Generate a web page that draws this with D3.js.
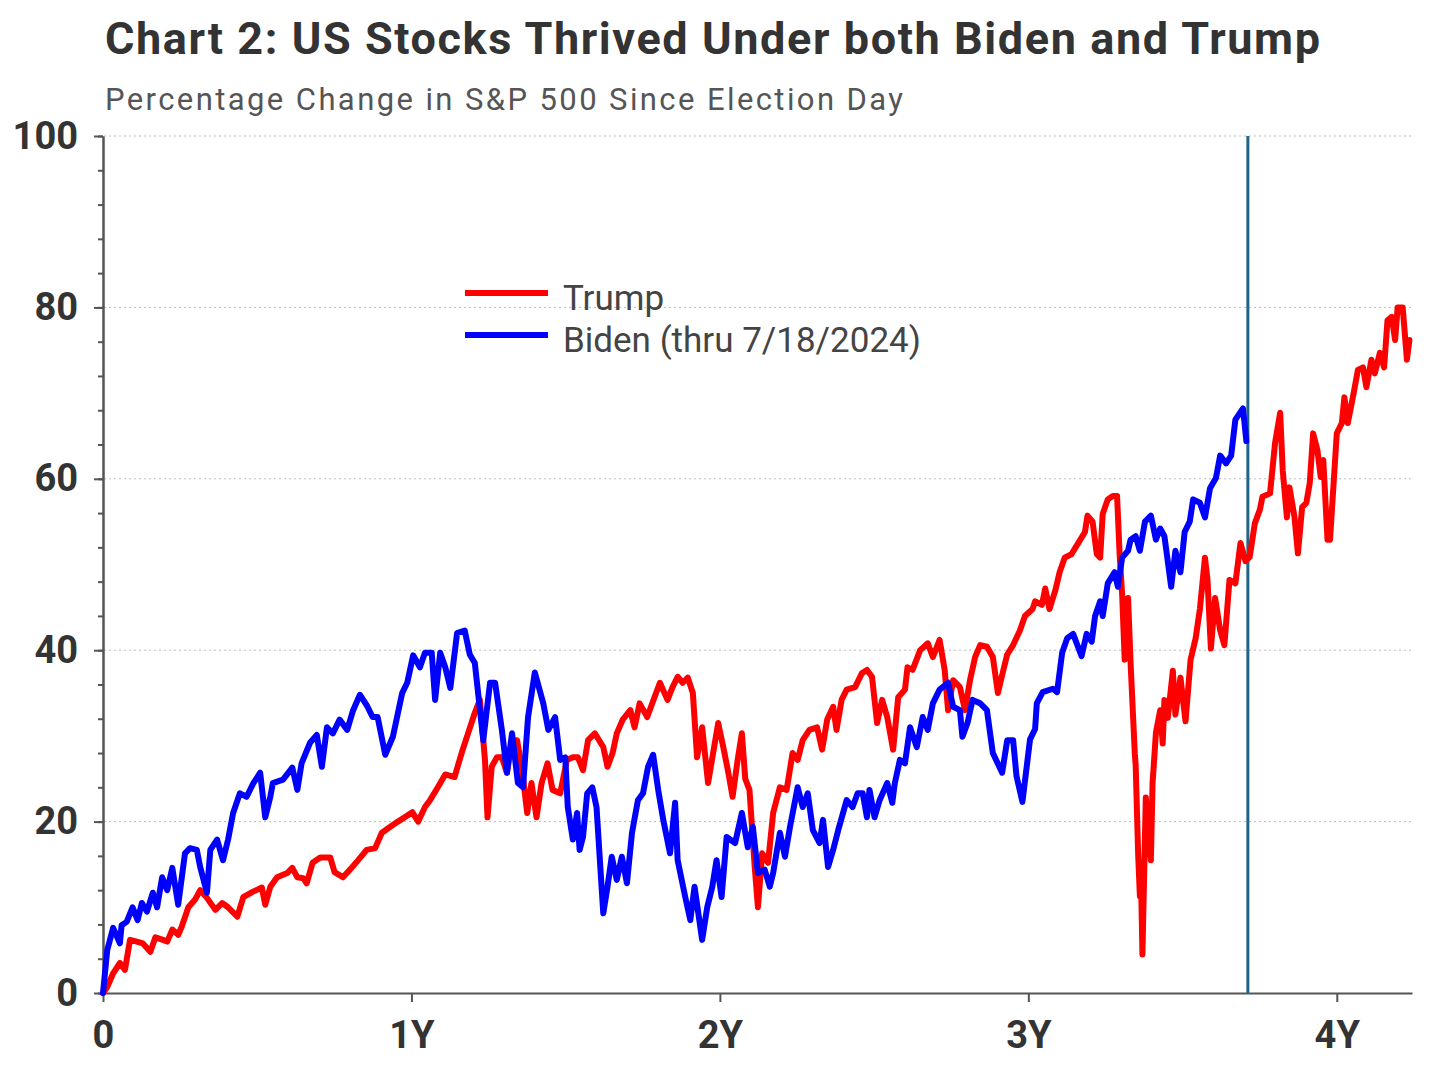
<!DOCTYPE html>
<html lang="en">
<head>
<meta charset="UTF-8">
<title>Chart 2: US Stocks Thrived Under both Biden and Trump</title>
<script src="https://d3js.org/d3.v7.min.js"></script>
<style>
  body { margin: 0; background: #fff; }
  text { font-family: Roboto, "Noto Sans", sans-serif; }
</style>
</head>
<body>
<svg width="1440" height="1076"></svg>
<script>
// [calendar days since election day, % change in S&P 500]
const trump = [[0,0],[5,0.7],[12,2.3],[20,3.5],[26,2.7],[32,6.2],[40,6],[47,5.8],[56,4.8],[62,6.5],[71,6.2],[76,6],[82,7.4],[89,6.8],[93,7.7],[101,10],[109,10.9],[115,12],[123,11.1],[133,9.7],[141,10.5],[148,10],[159,8.9],[166,11.2],[177,11.8],[188,12.3],[192,10.3],[198,12.4],[206,13.5],[218,14],[224,14.6],[230,13.5],[237,13.4],[241,12.8],[248,15.2],[257,15.8],[269,15.8],[274,14.1],[284,13.5],[295,14.7],[302,15.5],[312,16.7],[322,16.9],[330,18.7],[340,19.4],[349,20],[357,20.5],[366,21.1],[373,20],[381,21.7],[387,22.5],[395,23.8],[405,25.5],[416,25.2],[425,28.2],[432,30.3],[440,32.7],[446,34.2],[452,27.2],[455,20.5],[460,26.4],[466,27.5],[472,27.5],[478,25.7],[484,29.5],[490,29.5],[496,26],[502,21],[507,24.5],[513,20.5],[519,24.5],[526,26.8],[532,23.7],[541,23.3],[549,27.2],[556,27.5],[562,27.5],[568,26],[574,29.5],[582,30.3],[592,28.7],[597,26.4],[603,28],[608,30.3],[615,31.9],[624,33],[629,31],[635,33.8],[644,32.2],[650,33.8],[659,36.2],[668,34.2],[674,35.7],[680,36.9],[686,36.2],[692,36.8],[698,35],[703,27.5],[709,31],[716,24.5],[722,28],[728,31.5],[734,28.7],[740,25.7],[745,22.9],[751,27.2],[756,30.3],[760,25],[765,23.7],[771,15],[775,10],[780,16.3],[787,15.2],[793,21],[801,24],[809,23.7],[816,28],[822,27.2],[828,29.5],[836,30.7],[845,31],[851,28.4],[857,31.9],[864,33.4],[868,30.7],[874,34.2],[880,35.4],[890,35.7],[898,37.3],[904,37.7],[910,36.9],[916,31.5],[922,34.2],[928,32.2],[935,28.4],[941,34.5],[949,35.4],[952,38],[958,37.7],[967,40],[976,40.8],[982,39.2],[990,41.2],[996,37.7],[1000,33],[1006,36.5],[1014,35.7],[1020,33],[1026,36.5],[1032,39.2],[1038,40.6],[1046,40.4],[1053,39.2],[1059,35],[1065,37.5],[1070,39.5],[1077,40.6],[1085,42.3],[1091,44],[1100,44.8],[1103,45.7],[1111,45.3],[1115,47.2],[1120,44.8],[1127,47],[1132,49.1],[1138,50.8],[1146,51.2],[1154,52.5],[1162,53.8],[1165,55.7],[1171,55],[1176,51.2],[1180,50.8],[1183,55.9],[1189,57.6],[1195,58],[1200,58],[1203,51.2],[1206,46.5],[1209,38.9],[1213,46.1],[1216,38.5],[1221,27.9],[1222,26.6],[1225,16],[1227,11.3],[1228,15.1],[1230,4.5],[1234,22.8],[1240,15.5],[1242,24.5],[1246,30.4],[1251,33],[1254,29.1],[1256,34.2],[1260,32.1],[1266,37.6],[1269,32.5],[1275,36.8],[1281,31.7],[1287,38.9],[1293,41.4],[1298,44.8],[1304,50.8],[1307,48.2],[1311,40.2],[1316,46.1],[1322,42.3],[1327,40.6],[1333,48.2],[1340,47.8],[1346,52.5],[1352,50.4],[1357,50.9],[1363,54.8],[1369,56.4],[1372,57.9],[1381,58.3],[1387,64.2],[1393,67.7],[1396,61],[1401,55.5],[1404,59],[1410,55.5],[1414,51.3],[1419,56.7],[1424,57.2],[1428,59.5],[1432,65.3],[1437,63.4],[1441,60.2],[1444,62.2],[1449,52.9],[1452,52.9],[1460,65.3],[1466,66.5],[1469,69.5],[1473,66.5],[1479,69.5],[1485,72.7],[1491,73],[1495,70.7],[1501,73.9],[1505,72.3],[1511,74.7],[1516,73],[1520,78.5],[1525,78.9],[1529,76.2],[1532,80],[1538,80],[1543,73.9],[1546,76.2]];

const biden = [[0,0],[5,5],[12,7.6],[20,5.8],[22,7.9],[28,8.3],[35,10],[41,8.5],[46,10.5],[52,9.5],[59,11.7],[64,10],[70,13.5],[76,12],[82,14.6],[89,10.3],[97,16.3],[103,16.9],[111,16.7],[115,14.7],[123,11.7],[127,16.7],[135,17.9],[142,15.5],[148,17.9],[154,21],[162,23.3],[170,22.9],[178,24.5],[186,25.7],[192,20.5],[198,22.9],[201,24.5],[213,24.9],[224,26.3],[230,23.7],[235,26.8],[245,29.2],[253,30.1],[259,26.4],[265,31],[272,30.3],[280,31.9],[289,30.7],[296,33],[304,34.8],[312,33.6],[319,32.2],[325,32.2],[334,27.8],[343,29.9],[354,35],[360,36.2],[367,39.4],[375,38],[381,39.7],[389,39.7],[393,34.2],[399,39.7],[405,38],[411,35.6],[419,42],[428,42.3],[434,39.5],[440,38.5],[450,29.5],[458,36.2],[464,36.2],[472,30.7],[478,25.7],[484,30.3],[491,24.5],[497,24],[503,32.2],[511,37.4],[521,33.8],[527,30.7],[535,32.2],[541,27.2],[547,27.5],[550,21.7],[556,17.9],[561,21],[564,16.7],[568,18.2],[573,23.3],[579,24],[584,21.7],[592,9.3],[597,12.4],[602,15.9],[608,13.2],[614,15.9],[620,12.8],[626,18.7],[633,22.5],[639,23.3],[645,26.4],[651,27.8],[657,23.7],[663,20.2],[671,16.3],[677,22.2],[680,15.5],[689,11.2],[695,8.5],[700,12.4],[709,6.2],[715,10],[721,12.4],[726,15.5],[732,11.2],[738,18.2],[748,17.5],[756,21],[763,17],[769,19.4],[775,14],[783,14.4],[789,12.4],[793,14],[801,18.7],[807,15.9],[813,19.4],[822,24],[828,21.7],[834,23.3],[840,19],[848,17.5],[852,20.2],[858,14.7],[864,16.7],[870,19],[880,22.5],[887,21.7],[893,23.3],[899,23.3],[904,20.5],[907,23.7],[913,20.5],[919,22.5],[928,24.5],[934,22.2],[937,24.5],[943,27.2],[949,26.8],[955,31],[963,28.7],[970,32.2],[976,30.7],[982,33.8],[990,35.4],[1000,36.2],[1006,33.4],[1014,33],[1017,29.9],[1023,31.5],[1029,34.2],[1038,33.8],[1046,33],[1053,28],[1064,25.7],[1070,29.5],[1077,29.5],[1081,25.3],[1088,22.3],[1097,29.6],[1103,30.8],[1105,33.8],[1112,35.1],[1124,35.5],[1129,35.1],[1135,39.7],[1141,41.4],[1148,41.9],[1158,39.3],[1164,41.9],[1170,41],[1174,44],[1180,45.7],[1183,44],[1189,47.8],[1197,49.1],[1201,47.4],[1206,50.8],[1213,51.6],[1216,52.9],[1222,53.3],[1227,51.6],[1233,55],[1240,55.7],[1246,52.9],[1251,54.2],[1256,53.3],[1260,50.4],[1264,47.4],[1269,51.6],[1275,49.1],[1280,53.8],[1286,55],[1290,57.6],[1298,57.2],[1304,55.5],[1310,58.9],[1317,60.1],[1322,62.7],[1329,61.8],[1335,62.7],[1340,66.9],[1349,68.2],[1353,64.4]];

const yearTicks = [0, 365, 730, 1095, 1460];
const yearLabels = ["0", "1Y", "2Y", "3Y", "4Y"];
const pctTicks = [0, 20, 40, 60, 80, 100];
const pctMinor = d3.range(0, 101, 4);
const bidenEndDay = 1353;
const seriesNames = ["Trump", "Biden (thru 7/18/2024)"];
const seriesColors = ["#ff0000", "#0000ff"];

let svg = d3.select("svg")
let x = d3.scaleLinear().domain([0, 1549]).range([103, 1412])
let y = d3.scaleLinear().domain([0, 100]).range([993, 136])

// titles
svg.append("text").attr("x", 105).attr("y", 54)
    .attr("textLength", 1215).attr("lengthAdjust", "spacing")
    .style("font-size", "45px").style("font-weight", 700).attr("fill", "#333")
    .text("Chart 2: US Stocks Thrived Under both Biden and Trump")
svg.append("text").attr("x", 105).attr("y", 110)
    .attr("textLength", 798).attr("lengthAdjust", "spacing")
    .style("font-size", "31px").attr("fill", "#555")
    .text("Percentage Change in S&P 500 Since Election Day")

// dotted gridlines
svg.append("g").selectAll("line")
    .data(pctTicks.filter(d => d > 0))
    .enter().append("line")
    .attr("x1", x(0) + 1).attr("x2", x.range()[1])
    .attr("y1", d => y(d)).attr("y2", d => y(d))
    .attr("stroke", "#bbb").attr("stroke-width", 1).attr("stroke-dasharray", "2,3")

// minor y ticks
svg.append("g").attr("transform", `translate(${x(0)},0)`)
    .call(d3.axisLeft(y).tickValues(pctMinor).tickSize(5).tickSizeOuter(0).tickFormat(""))
    .call(g => g.selectAll("line,path").attr("stroke", "#555").attr("stroke-width", 2))

// major y axis
let yAxis = svg.append("g").attr("transform", `translate(${x(0)},0)`)
    .call(d3.axisLeft(y).tickValues(pctTicks).tickSize(9).tickSizeOuter(0).tickPadding(16))
yAxis.selectAll("line,path").attr("stroke", "#555").attr("stroke-width", 2)
yAxis.selectAll("text").attr("fill", "#333")
    .style("font-size", "38px").style("font-weight", 700).style("font-family", "Roboto")

// x axis
let xAxis = svg.append("g").attr("transform", `translate(0,${y(0)})`)
    .call(d3.axisBottom(x).tickValues(yearTicks).tickFormat((d, i) => yearLabels[i])
        .tickSize(9).tickSizeOuter(0).tickPadding(19))
xAxis.selectAll("line,path").attr("stroke", "#555").attr("stroke-width", 2)
xAxis.selectAll("text").attr("fill", "#333")
    .style("font-size", "38px").style("font-weight", 700).style("font-family", "Roboto")

// line for the last Biden date
svg.append("line")
    .attr("x1", x(bidenEndDay) + 1.5).attr("x2", x(bidenEndDay) + 1.5)
    .attr("y1", y(0)).attr("y2", y(100))
    .attr("stroke", "#1f6587").attr("stroke-width", 3)

let line = d3.line().x(d => x(d[0])).y(d => y(d[1]))

svg.append("path").datum(trump)
    .attr("d", line).attr("fill", "none")
    .attr("stroke", seriesColors[0]).attr("stroke-width", 6)
    .attr("stroke-linejoin", "round").attr("stroke-linecap", "round")
svg.append("path").datum(biden)
    .attr("d", line).attr("fill", "none")
    .attr("stroke", seriesColors[1]).attr("stroke-width", 6)
    .attr("stroke-linejoin", "round").attr("stroke-linecap", "round")

// legend
let legend = svg.append("g").selectAll("g")
    .data(seriesNames).enter().append("g")
    .attr("transform", (d, i) => `translate(465,${293 + i * 42})`)
legend.append("line").attr("x1", 0).attr("x2", 83)
    .attr("stroke", (d, i) => seriesColors[i]).attr("stroke-width", 6)
legend.append("text").attr("x", 98).attr("y", 17)
    .style("font-size", "35px").attr("fill", "#444")
    .text(d => d)
</script>
</body>
</html>
